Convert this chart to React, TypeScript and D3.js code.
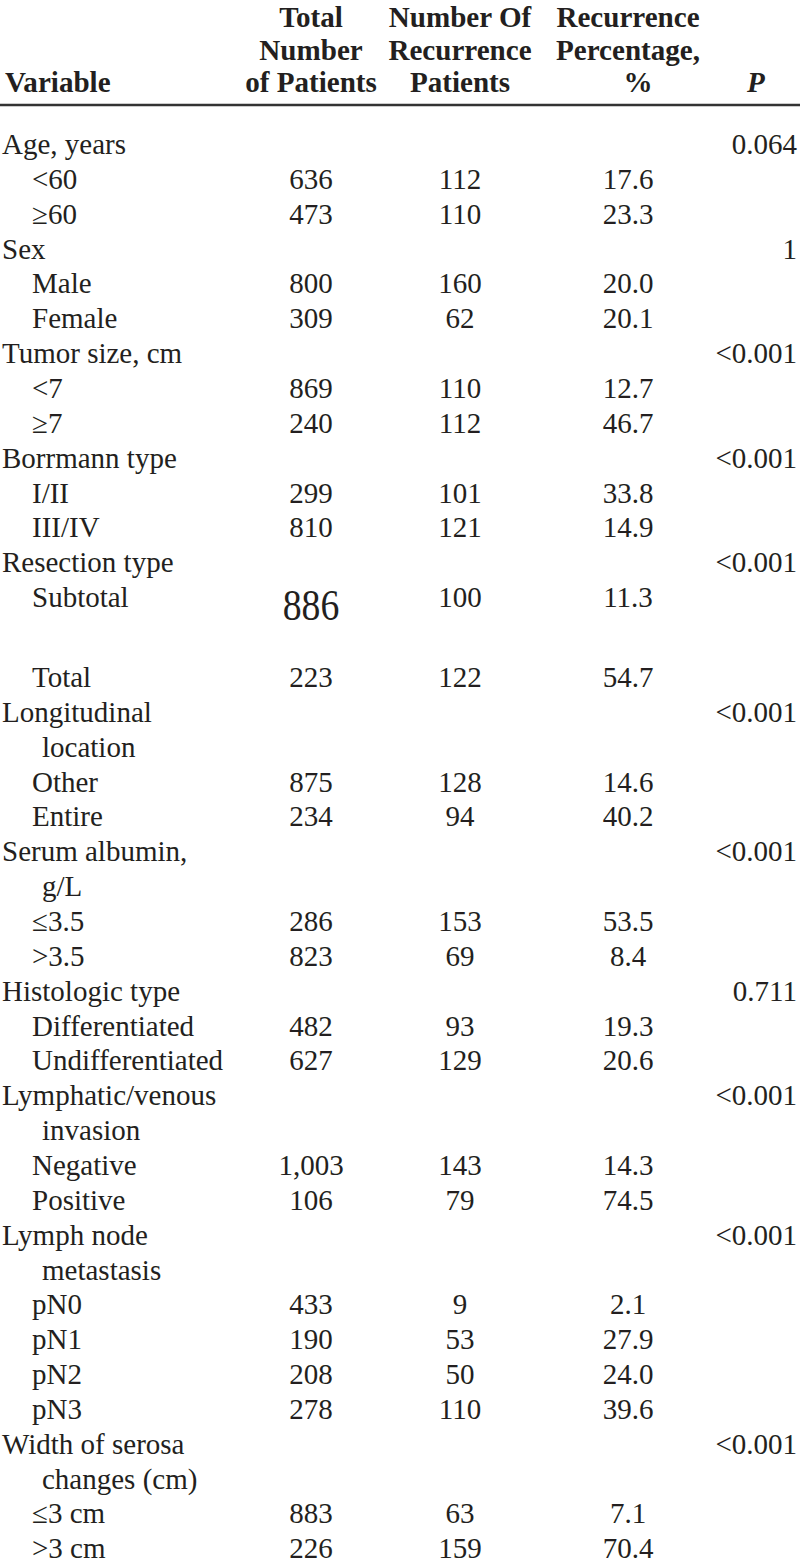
import React from "react";
import * as d3 from "d3";

const headerCol0 = ["", "", "Variable"];
const headerCol1 = ["Total", "Number", "of Patients"];
const headerCol2 = ["Number Of", "Recurrence", "Patients"];
const headerCol3 = ["Recurrence", "Percentage,", "%"];
const headerCol4 = ["", "", "P"];

const rowLabels = [
  "Age, years", "<60", "≥60",
  "Sex", "Male", "Female",
  "Tumor size, cm", "<7", "≥7",
  "Borrmann type", "I/II", "III/IV",
  "Resection type", "Subtotal", "", "Total",
  "Longitudinal", "location", "Other", "Entire",
  "Serum albumin,", "g/L", "≤3.5", ">3.5",
  "Histologic type", "Differentiated", "Undifferentiated",
  "Lymphatic/venous", "invasion", "Negative", "Positive",
  "Lymph node", "metastasis", "pN0", "pN1", "pN2", "pN3",
  "Width of serosa", "changes (cm)", "≤3 cm", ">3 cm",
];
// 0 = variable, 1 = continuation of variable name, 2 = category, 3 = blank
const rowLevels = [
  0, 2, 2,
  0, 2, 2,
  0, 2, 2,
  0, 2, 2,
  0, 2, 3, 2,
  0, 1, 2, 2,
  0, 1, 2, 2,
  0, 2, 2,
  0, 1, 2, 2,
  0, 1, 2, 2, 2, 2,
  0, 1, 2, 2,
];
const totalPatients = [
  "", "636", "473",
  "", "800", "309",
  "", "869", "240",
  "", "299", "810",
  "", "886", "", "223",
  "", "", "875", "234",
  "", "", "286", "823",
  "", "482", "627",
  "", "", "1,003", "106",
  "", "", "433", "190", "208", "278",
  "", "", "883", "226",
];
const recurrencePatients = [
  "", "112", "110",
  "", "160", "62",
  "", "110", "112",
  "", "101", "121",
  "", "100", "", "122",
  "", "", "128", "94",
  "", "", "153", "69",
  "", "93", "129",
  "", "", "143", "79",
  "", "", "9", "53", "50", "110",
  "", "", "63", "159",
];
const recurrencePct = [
  "", "17.6", "23.3",
  "", "20.0", "20.1",
  "", "12.7", "46.7",
  "", "33.8", "14.9",
  "", "11.3", "", "54.7",
  "", "", "14.6", "40.2",
  "", "", "53.5", "8.4",
  "", "19.3", "20.6",
  "", "", "14.3", "74.5",
  "", "", "2.1", "27.9", "24.0", "39.6",
  "", "", "7.1", "70.4",
];
const pValues = [
  "0.064", "", "",
  "1", "", "",
  "<0.001", "", "",
  "<0.001", "", "",
  "<0.001", "", "", "",
  "<0.001", "", "", "",
  "<0.001", "", "", "",
  "0.711", "", "",
  "<0.001", "", "", "",
  "<0.001", "", "", "", "", "",
  "<0.001", "", "", "",
];

const W = 800;
const H = 1565;
const FONT = "'Liberation Serif', 'Times New Roman', serif";
const INK = "#231f20";

export default function App() {
  const rowH = 34.85;
  const blankH = 45.15;
  const heights = rowLevels.map((l) => (l === 3 ? blankH : rowH));
  const offsets = [0, ...Array.from(d3.cumsum(heights)).slice(0, -1)];
  const firstBaseline = 154;
  const rowY = (i: number) => firstBaseline + offsets[i];

  const headerY = d3.scaleLinear().domain([0, 2]).range([27, 92]);

  const colX = d3
    .scaleOrdinal<string, number>()
    .domain(["var", "total", "rec", "pct", "p", "phead"])
    .range([2, 311, 460, 628, 797, 756]);

  const indent = (l: number) => (l === 0 ? 0 : l === 1 ? 40 : 30);

  const headerCols = [
    { key: "total", lines: headerCol1 },
    { key: "rec", lines: headerCol2 },
    { key: "pct", lines: headerCol3 },
  ];
  const sx = 0.97;

  return (
    <div style={{ position: "absolute", left: 0, top: 0 }}>
      <svg width={W} height={H} style={{ display: "block", background: "#fff" }}>
        <rect width={W} height={H} fill="#fff" />
        {/* header */}
        <g fontFamily={FONT} fontWeight="bold" fontSize={30} fill={INK}>
          {headerCol0.map((t, i) =>
            t ? (
              <text
                key={"h0" + i}
                transform={`translate(${colX("var") + 3},${headerY(i)}) scale(${sx},1)`}
              >
                {t}
              </text>
            ) : null
          )}
          {headerCols.map((c) =>
            c.lines.map((t, i) => (
              <text
                key={c.key + i}
                transform={`translate(${colX(c.key) + (t === "%" ? 10 : 0)},${headerY(i)}) scale(${sx},1)`}
                textAnchor="middle"
              >
                {t}
              </text>
            ))
          )}
          {headerCol4.map((t, i) =>
            t ? (
              <text
                key={"h4" + i}
                transform={`translate(${colX("phead")},${headerY(i)}) scale(${sx},1)`}
                textAnchor="middle"
                fontStyle="italic"
              >
                {t}
              </text>
            ) : null
          )}
        </g>
        <line x1={0} x2={W} y1={105} y2={105} stroke="#333" strokeWidth={2.5} />
        {/* body */}
        <g fontFamily={FONT} fontSize={29} fill={INK}>
          {rowLabels.map((t, i) => (
            <g key={"r" + i}>
              {t && (
                <text x={colX("var") + indent(rowLevels[i])} y={rowY(i)}>
                  {t}
                </text>
              )}
              {totalPatients[i] &&
                (totalPatients[i] === "886" ? (
                  <text
                    transform={`translate(${colX("total")},${rowY(i) + 13}) scale(0.92,1.1)`}
                    textAnchor="middle"
                    fontSize={41}
                  >
                    {totalPatients[i]}
                  </text>
                ) : (
                  <text x={colX("total")} y={rowY(i)} textAnchor="middle">
                    {totalPatients[i]}
                  </text>
                ))}
              {recurrencePatients[i] && (
                <text x={colX("rec")} y={rowY(i)} textAnchor="middle">
                  {recurrencePatients[i]}
                </text>
              )}
              {recurrencePct[i] && (
                <text x={colX("pct")} y={rowY(i)} textAnchor="middle">
                  {recurrencePct[i]}
                </text>
              )}
              {pValues[i] && (
                <text x={colX("p")} y={rowY(i)} textAnchor="end">
                  {pValues[i]}
                </text>
              )}
            </g>
          ))}
        </g>
      </svg>
    </div>
  );
}
